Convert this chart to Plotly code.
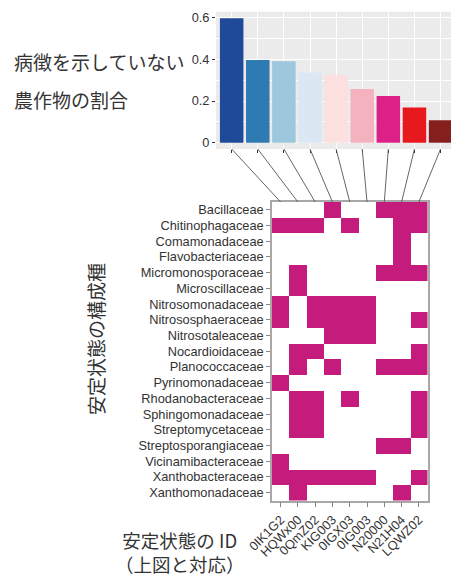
import plotly.graph_objects as go

W, H = 451, 577

# Stable-state IDs (shared by the bar chart and the heatmap columns)
state_ids = ["0IK1G2", "HQWx00", "0QmZ02", "KIG003", "0IGX03",
             "0IG003", "N20000", "N21H04", "LQWZ02"]

# Share of crops without symptoms for each stable state
healthy_share = [0.597, 0.396, 0.391, 0.337, 0.323, 0.258, 0.224, 0.169, 0.108]
bar_colors = ["#1F4A9A", "#2E7BB4", "#9DC7DD", "#DBE7F3", "#FBE0DF",
              "#F3B2BE", "#DC2186", "#E7191F", "#86201F"]

# Member families of each stable state
families = ["Bacillaceae", "Chitinophagaceae", "Comamonadaceae", "Flavobacteriaceae",
            "Micromonosporaceae", "Microscillaceae", "Nitrosomonadaceae",
            "Nitrososphaeraceae", "Nitrosotaleaceae", "Nocardioidaceae",
            "Planococcaceae", "Pyrinomonadaceae", "Rhodanobacteraceae",
            "Sphingomonadaceae", "Streptomycetaceae", "Streptosporangiaceae",
            "Vicinamibacteraceae", "Xanthobacteraceae", "Xanthomonadaceae"]

presence = [
    [0, 0, 0, 1, 0, 0, 1, 1, 1],
    [1, 1, 1, 0, 1, 0, 0, 1, 1],
    [0, 0, 0, 0, 0, 0, 0, 1, 0],
    [0, 0, 0, 0, 0, 0, 0, 1, 0],
    [0, 1, 0, 0, 0, 0, 1, 1, 1],
    [0, 1, 0, 0, 0, 0, 0, 0, 0],
    [1, 0, 1, 1, 1, 1, 0, 0, 0],
    [1, 0, 1, 1, 1, 1, 0, 0, 1],
    [0, 0, 0, 1, 1, 1, 0, 0, 0],
    [0, 1, 1, 0, 0, 0, 0, 0, 1],
    [0, 1, 0, 1, 0, 0, 1, 1, 1],
    [1, 0, 0, 0, 0, 0, 0, 0, 0],
    [0, 1, 1, 0, 1, 0, 0, 0, 1],
    [0, 1, 1, 0, 0, 0, 0, 0, 1],
    [0, 1, 1, 0, 0, 0, 0, 0, 1],
    [0, 0, 0, 0, 0, 0, 1, 1, 0],
    [1, 0, 0, 0, 0, 0, 0, 0, 0],
    [1, 1, 1, 1, 1, 1, 0, 0, 1],
    [0, 1, 0, 0, 0, 0, 0, 1, 0],
]

share_ticks = [0, 0.2, 0.4, 0.6]
share_tick_text = ["0", "0.2", "0.4", "0.6"]

# ---- layout geometry (pixels -> paper) ----
def px_x(p):
    return p / W

def px_y(p):
    return 1 - p / H

bar_xdom = [px_x(216), 1.0]
bar_ydom = [px_y(149), px_y(11.7)]
bar_xrange = [-0.6, 8.4]
bar_yrange = [-0.03, 0.628]

hm_xdom = [px_x(272), px_x(427.5)]
hm_ydom = [px_y(500.5), px_y(202)]
hm_xrange = [-0.5, len(state_ids) - 0.5]

tick_font = dict(family="Liberation Sans, Arial, sans-serif", size=12.8, color="#333333")
cjk_font = dict(family="Noto Sans CJK JP", size=19, color="#333333")

fig = go.Figure()

fig.add_trace(go.Bar(
    x=list(range(len(state_ids))), y=healthy_share,
    marker=dict(color=bar_colors, line=dict(width=0)),
    width=0.9, xaxis="x", yaxis="y", hoverinfo="skip", showlegend=False,
))

fig.add_trace(go.Heatmap(
    z=presence, x=state_ids, y=families,
    colorscale=[[0, "#FFFFFF"], [1, "#C51B7D"]], zmin=0, zmax=1,
    showscale=False, xaxis="x2", yaxis="y2", hoverinfo="skip",
))

# connector lines from each bar to its heatmap column
def to_paper(v, dom, rng):
    return dom[0] + (v - rng[0]) / (rng[1] - rng[0]) * (dom[1] - dom[0])

shapes = [
    dict(type="rect", xref="x domain", yref="y domain", x0=0, x1=1, y0=0, y1=1,
         fillcolor="#EBEBEB", line=dict(width=0), layer="below"),
]
for i in range(len(state_ids)):
    shapes.append(dict(
        type="line", xref="paper", yref="paper",
        x0=to_paper(i, bar_xdom, bar_xrange), y0=bar_ydom[0],
        x1=to_paper(i, hm_xdom, hm_xrange), y1=hm_ydom[1],
        line=dict(color="#555555", width=0.9),
    ))

annotations = [
    dict(text="病徴を示していない", x=px_x(12), y=px_y(62), xref="paper", yref="paper",
         xanchor="left", yanchor="middle", showarrow=False, font=cjk_font),
    dict(text="農作物の割合", x=px_x(12), y=px_y(100), xref="paper", yref="paper",
         xanchor="left", yanchor="middle", showarrow=False, font=cjk_font),
    dict(text="安定状態の構成種", x=px_x(95), y=px_y(339), xref="paper", yref="paper",
         xanchor="center", yanchor="middle", textangle=-90, showarrow=False, font=cjk_font),
    dict(text="安定状態の ID<br>（上図と対応）", x=px_x(180), y=px_y(552), xref="paper", yref="paper",
         xanchor="center", yanchor="middle", align="center", showarrow=False,
         font=dict(cjk_font, size=18.5)),
]

fig.update_layout(
    template="none",
    width=W, height=H,
    margin=dict(l=0, r=0, t=0, b=0, pad=0, autoexpand=False),
    paper_bgcolor="white", plot_bgcolor="white",
    showlegend=False,
    shapes=shapes, annotations=annotations,
    xaxis=dict(domain=bar_xdom, range=bar_xrange, tickvals=list(range(len(state_ids))),
               showticklabels=False, showgrid=True, gridcolor="white", gridwidth=1.1,
               ticks="outside", ticklen=3, tickcolor="#333333", zeroline=False,
               showline=False, fixedrange=True, automargin=False),
    yaxis=dict(domain=bar_ydom, range=bar_yrange, tickvals=share_ticks, ticktext=share_tick_text,
               tickfont=tick_font, showgrid=True, gridcolor="white", gridwidth=1.1,
               minor=dict(tickvals=[0.1, 0.3, 0.5], showgrid=True, gridcolor="white",
                          gridwidth=0.5, ticks=""),
               ticks="outside", ticklen=3, tickcolor="#333333", zeroline=False,
               showline=False, fixedrange=True, automargin=False),
    xaxis2=dict(domain=hm_xdom, range=hm_xrange, type="category", categoryarray=state_ids,
                tickangle=-45, tickfont=tick_font, ticks="outside", ticklen=5, tickcolor="#888888",
                showgrid=False, zeroline=False, showline=True, mirror=True,
                linecolor="#A8A8A8", linewidth=1.5, anchor="y2", fixedrange=True,
                automargin=False),
    yaxis2=dict(domain=hm_ydom, range=[len(families) - 0.5, -0.5], type="category",
                categoryarray=families, tickfont=tick_font, ticks="outside", ticklen=4,
                tickcolor="#888888", showgrid=False, zeroline=False, showline=True, mirror=True,
                linecolor="#A8A8A8", linewidth=1.5, anchor="x2", fixedrange=True,
                automargin=False),
)

fig.write_html("out.html")
